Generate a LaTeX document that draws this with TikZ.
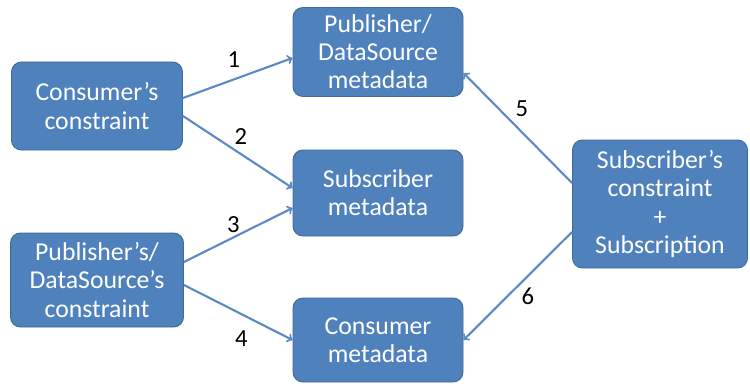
\documentclass[tikz,border=0pt]{standalone}
\usepackage{fontspec}
\setmainfont{Carlito}
\usepackage{xcolor}
\usepackage{tikz}
\usetikzlibrary{positioning,arrows}

\definecolor{boxfill}{HTML}{4F81BD}
\definecolor{boxline}{HTML}{3E6A98}
\definecolor{linkblue}{HTML}{5A8AC6}

\begin{document}
\begin{tikzpicture}[on grid,auto]
        \tikzstyle{box}=[draw=boxline,thick,fill=boxfill,rounded corners=0.3cm,text=white,align=center,inner sep=0pt,font=\fontsize{22}{24}\selectfont]
        \tikzstyle{num}=[anchor=center,font=\fontsize{21}{22}\selectfont]
        \tikzstyle{link}=[->,draw=linkblue,line width=1.8pt]
        \useasboundingbox (0,0) rectangle (22.5,-11.58);
        \node[box,minimum width=5.13cm,minimum height=2.64cm] (cc) at (2.91,-3.18) {Consumer’s\\constraint};
        \node[box,minimum width=5.19cm,minimum height=2.82cm] (pc) [below=5.22cm of cc] {Publisher’s/\\DataSource’s\\constraint};
        \node[box,minimum width=5.1cm,minimum height=2.67cm] (pm) [above right=1.62cm and 8.43cm of cc] {Publisher/\\DataSource\\metadata};
        \node[box,minimum width=5.1cm,minimum height=2.58cm] (sm) [below=4.23cm of pm] {Subscriber\\metadata};
        \node[box,minimum width=5.1cm,minimum height=2.52cm] (cm) [below=4.41cm of sm] {Consumer\\metadata};
        \node[box,minimum width=5.25cm,minimum height=3.84cm] (sc) [below right=0.33cm and 8.46cm of sm] {Subscriber’s\\constraint\\+\\Subscription};
        \draw[link] ([yshift=0.24cm]cc.east) -- node[num,midway,xshift=-0.12cm,yshift=0.54cm] {1} ([yshift=-0.18cm]pm.west);
        \draw[link] ([yshift=-0.3cm]cc.east) -- node[num,midway,xshift=0.09cm,yshift=0.45cm] {2} ([yshift=0.15cm]sm.west);
        \draw[link] ([yshift=0.54cm]pc.east) -- node[num,midway,xshift=-0.15cm,yshift=0.3cm] {3} ([yshift=-0.45cm]sm.west);
        \draw[link] ([yshift=-0.15cm]pc.east) -- node[num,midway,xshift=0.09cm,yshift=-0.78cm] {4} (cm.west);
        \draw[link] ([yshift=0.63cm]sc.west) -- node[num,midway,xshift=0.12cm,yshift=0.57cm] {5} ([yshift=-0.63cm]pm.east);
        \draw[link] ([yshift=-0.84cm]sc.west) -- node[num,midway,xshift=0.3cm,yshift=-0.3cm] {6} (cm.east);
    \end{tikzpicture}
\end{document}
